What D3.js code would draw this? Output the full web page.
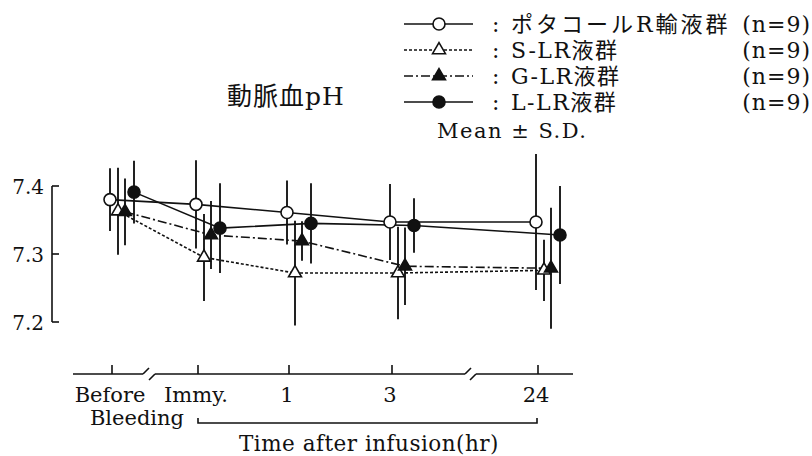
<!DOCTYPE html>
<html>
<head>
<meta charset="utf-8">
<script src="https://cdn.jsdelivr.net/npm/d3@7"></script>
<style>
  body { margin: 0; background: #fff; }
  text { font-family: "DejaVu Serif", "Noto Sans CJK JP", serif; fill: #111; }
</style>
</head>
<body>
<div id="canvas"></div>
<script>
const categories = ["Before", "Immy.", "1", "3", "24"];
const seriesNames = ["ポタコールR輸液群", "S-LR液群", "G-LR液群", "L-LR液群"];
const nLabels = ["(n=9)", "(n=9)", "(n=9)", "(n=9)"];
const potacolMean = [7.380, 7.373, 7.361, 7.347, 7.347];
const potacolSD   = [0.046, 0.065, 0.047, 0.056, 0.100];
const slrMean = [7.363, 7.295, 7.272, 7.272, 7.276];
const slrSD   = [0.064, 0.064, 0.077, 0.068, 0.045];
const glrMean = [7.362, 7.328, 7.319, 7.282, 7.279];
const glrSD   = [0.049, 0.050, 0.029, 0.057, 0.089];
const llrMean = [7.391, 7.338, 7.345, 7.342, 7.328];
const llrSD   = [0.046, 0.066, 0.059, 0.040, 0.072];
const yTicks = [7.2, 7.3, 7.4];

const width = 812;
const height = 456;

const svg = d3.select("#canvas").append("svg")
    .attr("width", width)
    .attr("height", height);

// broken time axis: positions of each category on the page
const x = d3.scaleLinear()
    .domain([0, 1, 2, 3, 4])
    .range([112, 198, 289, 392, 538]);

const y = d3.scaleLinear()
    .domain([7.2, 7.4])
    .range([322, 186]);

const series = [
    { mean: potacolMean, sd: potacolSD, dx: -2, shape: "circle", fill: "#fff", dash: null },
    { mean: slrMean, sd: slrSD, dx: 6, shape: "triangle", fill: "#fff", dash: "3,2" },
    { mean: glrMean, sd: glrSD, dx: 13, shape: "triangle", fill: "#111", dash: "9,3,2,3" },
    { mean: llrMean, sd: llrSD, dx: 22, shape: "circle", fill: "#111", dash: null }
];

function marker(sel, s) {
    if (s.shape === "circle") {
        sel.append("circle").attr("r", 6)
            .attr("fill", s.fill).attr("stroke", "#111").attr("stroke-width", 1.6);
    } else {
        sel.append("path").attr("d", d3.symbol(d3.symbolTriangle).size(72)())
            .attr("fill", s.fill).attr("stroke", "#111").attr("stroke-width", 1.6);
    }
}

// y axis
const yAxis = svg.append("g");
yAxis.append("line")
    .attr("x1", 52).attr("x2", 52)
    .attr("y1", y(7.4)).attr("y2", y(7.2))
    .attr("stroke", "#111").attr("stroke-width", 1.6);
yAxis.selectAll(".tk").data(yTicks).enter().append("line")
    .attr("x1", 52).attr("x2", 59)
    .attr("y1", d => y(d)).attr("y2", d => y(d))
    .attr("stroke", "#111").attr("stroke-width", 1.6);
yAxis.selectAll("text").data(yTicks).enter().append("text")
    .attr("x", 44).attr("y", d => y(d) + 8)
    .attr("text-anchor", "end")
    .style("font-size", "20px")
    .text(d => d.toFixed(1));

// x axis with two breaks
const ax = 374;
const xAxis = svg.append("g").attr("stroke", "#111").attr("stroke-width", 1.6).attr("fill", "none");
const segs = [[73, 143], [155, 465], [476, 573]];
segs.forEach(s => xAxis.append("line").attr("x1", s[0]).attr("x2", s[1]).attr("y1", ax).attr("y2", ax));
xAxis.append("line").attr("x1", 143).attr("y1", ax).attr("x2", 149).attr("y2", ax - 6);
xAxis.append("line").attr("x1", 149).attr("y1", ax + 6).attr("x2", 155).attr("y2", ax);
xAxis.append("line").attr("x1", 465).attr("y1", ax).attr("x2", 471).attr("y2", ax - 6);
xAxis.append("line").attr("x1", 470).attr("y1", ax + 6).attr("x2", 476).attr("y2", ax);
xAxis.selectAll(".tk").data(categories).enter().append("line")
    .attr("x1", (d, i) => x(i)).attr("x2", (d, i) => x(i))
    .attr("y1", ax).attr("y2", ax - 9);

svg.selectAll(".xl").data(categories).enter().append("text")
    .attr("x", (d, i) => x(i) - 2)
    .attr("y", ax + 28)
    .attr("text-anchor", "middle")
    .style("font-size", "21px")
    .text(d => d);
svg.append("text").attr("x", 137).attr("y", 425)
    .attr("text-anchor", "middle").style("font-size", "21px").text("Bleeding");

// bracket under the infusion time points
svg.append("path")
    .attr("d", `M${x(1)},418 V423 H${x(4) - 1} V418`)
    .attr("fill", "none").attr("stroke", "#111").attr("stroke-width", 1.6);
svg.append("text").attr("x", 369).attr("y", 451)
    .attr("text-anchor", "middle").style("font-size", "21.5px").style("letter-spacing", "0.5px")
    .text("Time after infusion(hr)");

// error bars, lines, markers
const plot = svg.append("g");
series.forEach(s => {
    plot.selectAll(null).data(s.mean).enter().append("line")
        .attr("x1", (d, i) => x(i) + s.dx).attr("x2", (d, i) => x(i) + s.dx)
        .attr("y1", (d, i) => y(d + s.sd[i])).attr("y2", (d, i) => y(d - s.sd[i]))
        .attr("stroke", "#222").attr("stroke-width", 2);
});
series.forEach(s => {
    const line = d3.line().x((d, i) => x(i) + s.dx).y(d => y(d));
    plot.append("path").datum(s.mean)
        .attr("d", line)
        .attr("fill", "none").attr("stroke", "#111").attr("stroke-width", 1.6)
        .attr("stroke-dasharray", s.dash);
});
series.forEach(s => {
    s.mean.forEach((d, i) => {
        const m = plot.append("g").attr("transform", `translate(${x(i) + s.dx},${y(d)})`);
        marker(m, s);
    });
});

// title
svg.append("text").attr("x", 227).attr("y", 105)
    .style("font-size", "25px").style("letter-spacing", "1px").text("動脈血pH");

// legend
const lg = svg.append("g");
series.forEach((s, i) => {
    const ly = 24 + i * 26;
    lg.append("line").attr("x1", 404).attr("x2", 473).attr("y1", ly).attr("y2", ly)
        .attr("stroke", "#111").attr("stroke-width", 1.6).attr("stroke-dasharray", s.dash);
    const m = lg.append("g").attr("transform", `translate(439,${ly})`);
    marker(m, s);
    lg.append("text").attr("x", 492).attr("y", ly + 8).style("font-size", "22px").text(":");
    lg.append("text").attr("x", 511).attr("y", ly + 8).style("font-size", "22px")
        .style("letter-spacing", i === 0 ? "3px" : "1.5px")
        .text(seriesNames[i]);
    lg.append("text").attr("x", 811).attr("y", ly + 8).attr("text-anchor", "end")
        .style("font-size", "22px").style("letter-spacing", "1px").text(nLabels[i]);
});
svg.append("text").attr("x", 437).attr("y", 138)
    .style("font-size", "21px").style("letter-spacing", "1.5px").text("Mean ± S.D.");
</script>
</body>
</html>
